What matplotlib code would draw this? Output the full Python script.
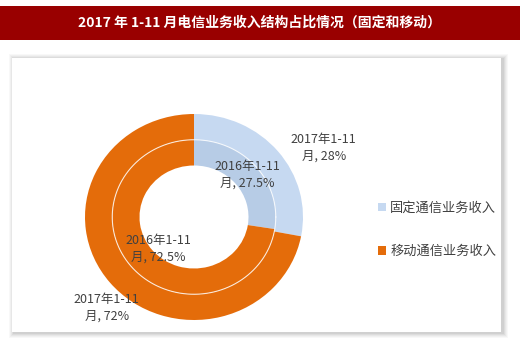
import numpy as np
import matplotlib
matplotlib.use("Agg")
import matplotlib.pyplot as plt
from matplotlib.patches import Rectangle, Patch

plt.rcParams['font.family'] = ['Noto Sans CJK SC', 'DejaVu Sans']

title = "2017 年 1-11 月电信业务收入结构占比情况（固定和移动）"
categories = ["固定通信业务收入", "移动通信业务收入"]
share_2017 = [28, 72]      # outer ring
share_2016 = [27.5, 72.5]  # inner ring
period_2017 = "2017年1-11\n月"
period_2016 = "2016年1-11\n月"

outer_colors = ["#c6d9f1", "#e46c0a"]
inner_colors = ["#b7cce6", "#e46c0a"]
text_color = "#404040"

W, H = 520, 340
fig = plt.figure(figsize=(W / 100, H / 100), dpi=100)


def fx(px):
    return px / W


def fy(py):
    return 1 - py / H


# red title bar
fig.patches.append(Rectangle((0, fy(40)), 1, fy(6) - fy(40), transform=fig.transFigure,
                             facecolor="#990000", edgecolor="none", zorder=-10))
fig.text(0.5, fy(23), title, color="white", fontsize=10, fontweight="bold",
         ha="center", va="center")

# chart frame with a soft gray shadow
x0, y0, x1, y1 = 12, 58, 501, 332
for i, a in enumerate([0.05, 0.06, 0.08, 0.10, 0.12]):
    d = 5 - i
    fig.patches.append(Rectangle((fx(x0 - d + 2), fy(y1 + d + 1)), fx(x1 - x0 + 2 * d), fy(y0) - fy(y1) + 2 * d / H,
                                 transform=fig.transFigure, facecolor="#808080",
                                 edgecolor="none", alpha=a, zorder=-10))
fig.patches.append(Rectangle((fx(x0), fy(y1)), fx(x1 - x0), fy(y0) - fy(y1), transform=fig.transFigure,
                             facecolor="white", edgecolor="none", zorder=-9))

# donut axes: center (194, 217), radius ~109 x 103 px
ax = fig.add_axes([fx(85), fy(320), fx(218), fy(114) - fy(320)])
ax.set_zorder(5)
ax.patch.set_visible(False)
ax.pie(share_2017, radius=1.0, colors=outer_colors, startangle=90, counterclock=False,
       wedgeprops=dict(width=0.25, edgecolor="none"))
ax.pie(share_2016, radius=0.75, colors=inner_colors, startangle=90, counterclock=False,
       wedgeprops=dict(width=0.25, edgecolor="none"))
# thin white ring between the two years
theta = np.linspace(0, 2 * np.pi, 400)
ax.plot(0.75 * np.cos(theta), 0.75 * np.sin(theta), color="white", lw=0.8, alpha=0.8)
ax.set_aspect("auto")
ax.set_xlim(-1, 1)
ax.set_ylim(-1, 1)
ax.axis("off")

label_pos = {
    ("2017", 0): (1.19, 0.67),
    ("2016", 0): (0.49, 0.41),
    ("2016", 1): (-0.33, -0.31),
    ("2017", 1): (-0.80, -0.88),
}
for k in range(2):
    x, y = label_pos[("2017", k)]
    ax.text(x, y, f"{period_2017}, {share_2017[k]:g}%", ha="center", va="center",
            fontsize=9, color=text_color, linespacing=1.35, clip_on=False)
    x, y = label_pos[("2016", k)]
    ax.text(x, y, f"{period_2016}, {share_2016[k]:g}%", ha="center", va="center",
            fontsize=9, color=text_color, linespacing=1.35, clip_on=False)

handles = [Patch(facecolor=c, edgecolor="none") for c in outer_colors]
fig.legend(handles, categories, loc="center left", bbox_to_anchor=(fx(371), fy(230)),
           frameon=False, fontsize=9.5, handlelength=0.6, handleheight=0.6,
           handletextpad=0.35, labelspacing=2.3, borderpad=0, labelcolor=text_color)

fig.savefig("out.png", dpi=100)
